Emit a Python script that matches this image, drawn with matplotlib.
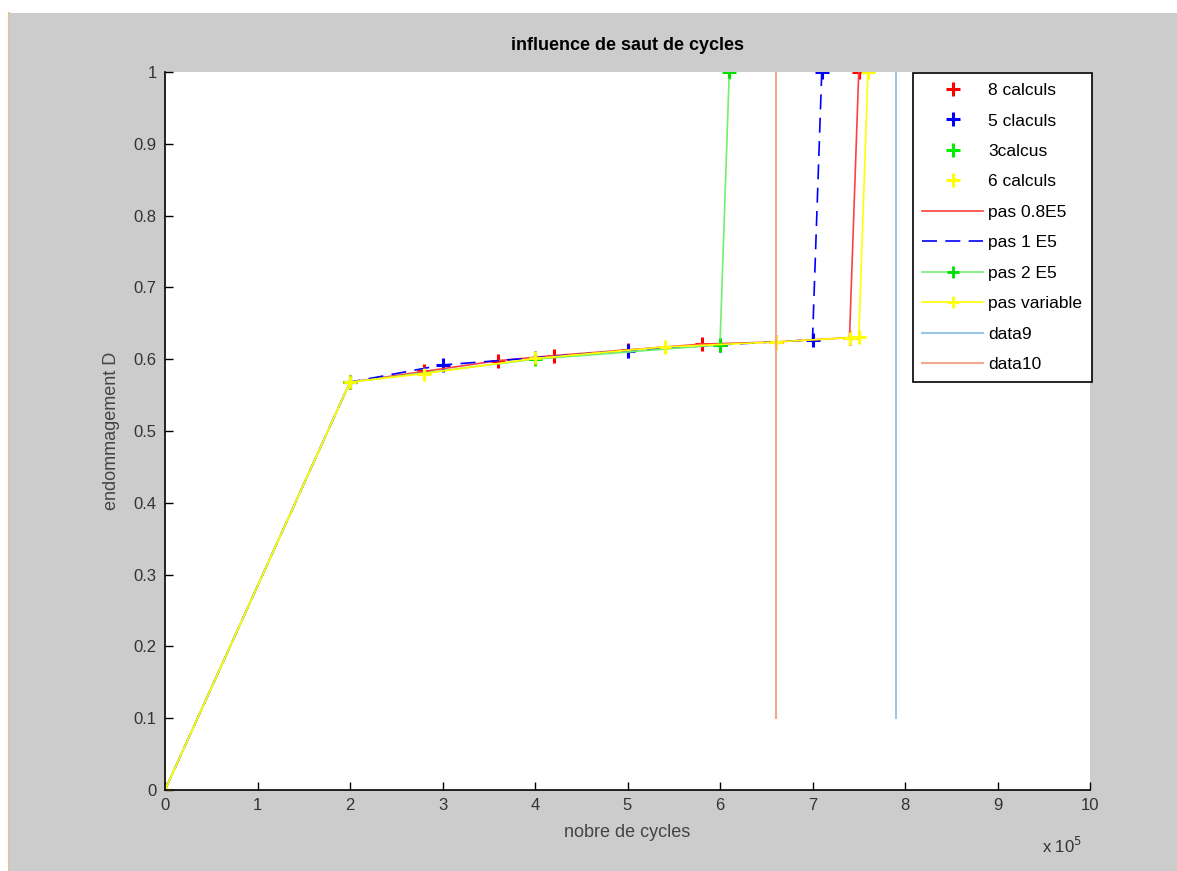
import matplotlib.pyplot as plt
import matplotlib.patches as mpatches
import numpy as np

plt.rcParams['font.family'] = ['Liberation Sans', 'DejaVu Sans']

# nombre de cycles in units of 1e5, damage D
x_8 = [0, 2, 2.8, 3.6, 4.2, 5.0, 5.8, 6.6, 7.4, 7.5]
d_8 = [0, 0.568, 0.583, 0.598, 0.605, 0.613, 0.621, 0.624, 0.630, 1.0]

x_5 = [0, 2, 3, 4, 5, 6, 7, 7.1]
d_5 = [0, 0.568, 0.592, 0.602, 0.612, 0.620, 0.627, 1.0]

x_3 = [0, 2, 4, 6, 6.1]
d_3 = [0, 0.568, 0.600, 0.620, 1.0]

x_6 = [0, 2, 2.8, 4, 5.4, 6.6, 7.4, 7.5, 7.6]
d_6 = [0, 0.568, 0.580, 0.601, 0.617, 0.624, 0.630, 0.631, 1.0]

x_data9 = [7.9, 7.9]
x_data10 = [6.6, 6.6]
d_vert = [0.1, 1.0]

fig = plt.figure(figsize=(11.77, 8.71), dpi=100, facecolor='#cccccc')
# white screenshot border top/left
fig.add_artist(mpatches.Rectangle((0, 1 - 13/871), 1, 13/871, transform=fig.transFigure,
                                  facecolor='white', edgecolor='none'))
fig.add_artist(mpatches.Rectangle((0, 0), 9/1177, 1, transform=fig.transFigure,
                                  facecolor='white', edgecolor='none'))
fig.add_artist(plt.Line2D([9/1177, 9/1177], [0, 1 - 13/871], transform=fig.transFigure,
                          color='#d8c8a8', lw=1.5))

ax = fig.add_axes([165/1177, 1 - 790/871, 925/1177, 718/871])

mk = dict(marker='+', markersize=10, markeredgewidth=2.2, linestyle='none')
ax.plot(x_8, d_8, color='#ff0000', label='8 calculs', **mk)
ax.plot(x_5, d_5, color='#0000ff', label='5 claculs', **mk)
ax.plot(x_3, d_3, color='#00ee00', label='3calcus', **mk)
ax.plot(x_6, d_6, color='#ffff00', label='6 calculs', **mk)

ax.plot(x_8, d_8, color='#ff4040', lw=1.2, label='pas 0.8E5')
ax.plot(x_5, d_5, color='#0000ff', lw=1.2, dashes=(9, 5), label='pas 1 E5')
ax.plot(x_3, d_3, color='#70f070', lw=1.2, marker='+', markersize=9,
        markeredgewidth=2, markeredgecolor='#00dd00', label='pas 2 E5')
ax.plot(x_6, d_6, color='#ffff00', lw=1.2, marker='+', markersize=9,
        markeredgewidth=2, label='pas variable')

ax.plot(x_data9, d_vert, color='#9cc6e6', lw=1.5, label='data9')
ax.plot(x_data10, d_vert, color='#f0a890', lw=1.5, label='data10')

ax.set_xlim(0, 10)
ax.set_ylim(0, 1)
ax.set_xticks(np.arange(0, 11))
ax.set_xticklabels([str(i) for i in range(11)])
ax.set_yticks(np.arange(0, 1.01, 0.1))
ax.set_yticklabels(['0', '0.1', '0.2', '0.3', '0.4', '0.5', '0.6', '0.7', '0.8', '0.9', '1'])
ax.tick_params(direction='in', length=6, width=1, labelsize=12, colors='black',
               labelcolor='#333333', pad=6)

for s in ['top', 'right']:
    ax.spines[s].set_visible(False)
for s in ['left', 'bottom']:
    ax.spines[s].set_linewidth(1.2)

ax.set_title('influence de saut de cycles', fontsize=13, fontweight='bold', pad=16)
ax.set_xlabel('nobre de cycles', fontsize=13, color='#444444', labelpad=8)
ax.set_ylabel('endommagement D', fontsize=13, color='#444444', labelpad=10)
ax.text(0.948, -0.078, r'x 10$^5$', transform=ax.transAxes, fontsize=12,
        color='#333333', ha='left', va='center')

leg = ax.legend(loc='upper right', bbox_to_anchor=(1.002, 0.998), fontsize=12.5,
                fancybox=False, framealpha=1, edgecolor='black', handlelength=3.5,
                borderpad=0.55, labelspacing=0.88, handletextpad=0.3, borderaxespad=0)
leg.get_frame().set_linewidth(1.2)

fig.savefig('out.png', dpi=100, facecolor=fig.get_facecolor())
